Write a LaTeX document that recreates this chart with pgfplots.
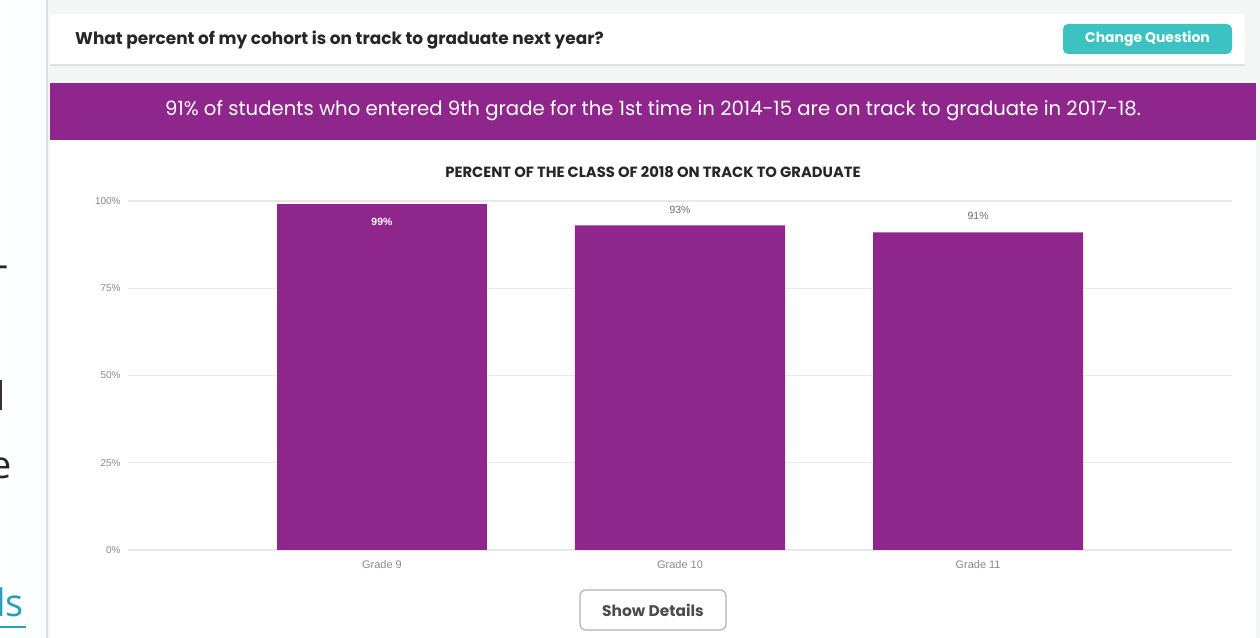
\documentclass[border=0pt]{standalone}
\usepackage{fontspec}
\usepackage{pgfplots}
\pgfplotsset{compat=1.18}
\setmainfont{Poppins}
\newfontfamily\axisfont{Liberation Sans}
\newfontfamily\leftfont{Open Sans}
\definecolor{pagebg}{HTML}{F4F6F6}
\definecolor{barpurple}{HTML}{8E268C}
\definecolor{teal}{HTML}{3CC3C1}
\definecolor{gridgray}{HTML}{E8E8E8}
\definecolor{tickgray}{HTML}{8A8A8A}
\definecolor{linkblue}{HTML}{2A9CC0}
\begin{document}
\begin{tikzpicture}[x=1bp,y=1bp]
\useasboundingbox (0,0) rectangle (1260,638);
\clip (0,0) rectangle (1260,638);
% page frame, in pixel units (y measured from the bottom)
\fill[pagebg] (0,0) rectangle (1260,638);
\fill[white] (0,0) rectangle (8,638);
\fill[pagebg!70!cyan!4] (8,0) rectangle (46,638);
\draw[gray!25, line width=1.5bp] (47,0) -- (47,638);
% cut off text of the neighbouring page
\node[anchor=west, inner sep=0, font=\leftfont\fontsize{38}{40}\selectfont, text=black!85] at (-4,366) {-};
\fill[black!80] (0,228) rectangle (2,258);
\node[anchor=west, inner sep=0, font=\leftfont\fontsize{38}{40}\selectfont, text=black!85] at (-10,170) {e};
\node[anchor=west, inner sep=0, font=\leftfont\fontsize{38}{40}\selectfont, text=linkblue] at (-4,36) {ls};
\fill[linkblue] (0,10) rectangle (26,12);
% question card
\fill[black!12] (50,572) rectangle (1245,622);
\fill[white] (50,574) rectangle (1245,624);
\node[anchor=west, inner sep=0, font=\bfseries\fontsize{17}{19}\selectfont, text=black!85] at (75,598)
  {What percent of my cohort is on track to graduate next year?};
\fill[teal, rounded corners=5bp] (1063,584) rectangle (1232,614);
\node[font=\bfseries\fontsize{14}{16}\selectfont, text=white] at (1147.5,599) {Change Question};
% banner and chart panel
\fill[white] (50,0) rectangle (1256,498);
\fill[barpurple] (50,498) rectangle (1256,555);
\node[font=\fontsize{19.75}{22}\selectfont, text=white] at (653,527)
  {91\% of students who entered 9th grade for the 1st time in 2014-15 are on track to graduate in 2017-18.};
\node[font=\bfseries\fontsize{14.8}{16}\selectfont, text=black!85] at (653,466)
  {PERCENT OF THE CLASS OF 2018 ON TRACK TO GRADUATE};
% chart
\begin{axis}[
    at={(128bp,88bp)}, anchor=south west,
    scale only axis, width=1104bp, height=349bp,
    xmin=-0.852, xmax=2.852, ymin=0, ymax=100,
    axis line style={draw=none},
    /pgf/number format/assume math mode=true,
    ybar, bar width=0.7047, bar shift=0pt,
    ytick={0,25,50,75,100},
    yticklabels={0\%,25\%,50\%,75\%,100\%},
    xtick={0,1,2},
    xticklabels={Grade 9,Grade 10,Grade 11},
    ymajorgrids, major grid style={gridgray, line width=1.2bp},
    major tick length=0pt,
    yticklabel style={font=\axisfont\fontsize{10}{11}\selectfont, text=tickgray, anchor=east, xshift=-4bp},
    xticklabel style={font=\axisfont\fontsize{11}{12}\selectfont, text=tickgray, yshift=-7bp},
    clip=false,
]
\addplot[fill=barpurple, draw=none,
    nodes near coords={\pgfmathprintnumber{\pgfplotspointmeta}\%},
    nodes near coords style={font=\axisfont\bfseries\fontsize{10.5}{12}\selectfont, text=white, anchor=center, yshift=-17bp}]
  coordinates {(0,99)};
\addplot[fill=barpurple, draw=none,
    nodes near coords={\pgfmathprintnumber{\pgfplotspointmeta}\%},
    nodes near coords style={font=\axisfont\fontsize{10.5}{12}\selectfont, text=tickgray!80!black, anchor=center, yshift=16bp}]
  coordinates {(1,93) (2,91)};
\end{axis}
% show details button
\draw[black!30, line width=1.2bp, fill=white, rounded corners=6bp] (580,8) rectangle (726,48);
\node[font=\bfseries\fontsize{15.5}{17}\selectfont, text=black!70] at (653,28) {Show Details};
\end{tikzpicture}
\end{document}
